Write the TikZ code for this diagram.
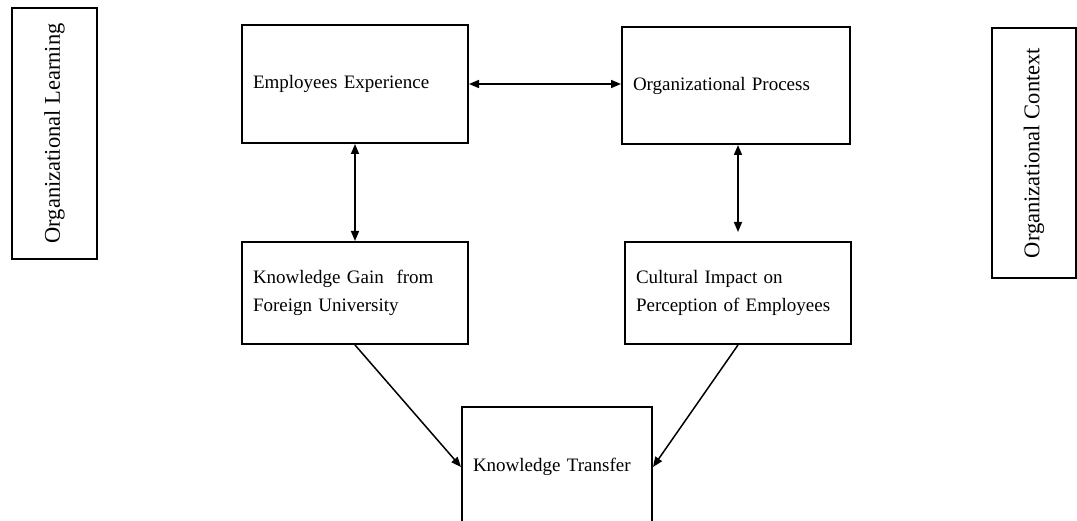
\documentclass[tikz,border=0pt]{standalone}
\usepackage{fontspec}
\setmainfont{Liberation Serif}
\usetikzlibrary{arrows.meta}
\begin{document}
\begin{tikzpicture}[x=1pt,y=-1pt,
  box/.style={draw, line width=2pt, rectangle, inner sep=0pt, inner xsep=11pt,
    align=left, font=\fontsize{19}{28}\selectfont},
  sidebox/.style={draw, line width=2pt, rectangle, inner sep=0pt, rotate=90,
    font=\fontsize{22.5}{26}\selectfont},
  link/.style={line width=1.5pt, -{Triangle[length=10pt,width=8pt]}},
  dlink/.style={line width=1.5pt, {Triangle[length=10pt,width=8pt]}-{Triangle[length=10pt,width=8pt]}}]
\useasboundingbox (0,0) rectangle (1077,521);

% side labels
\node[sidebox, minimum width=251pt, minimum height=85pt] (ol) at (54.5,133.5) {Organizational Learning};
\node[sidebox, minimum width=250pt, minimum height=84pt] (oc) at (1034,153) {Organizational Context};

% main boxes
\node[box, text width=204pt, minimum height=118pt] (ee) at (355,84) {Employees Experience};
\node[box, text width=206pt, minimum height=117pt] (op) at (736,85.5) {Organizational Process};
\node[box, text width=204pt, minimum height=102pt] (kg) at (355,293) {Knowledge Gain~ from\\Foreign University};
\node[box, text width=204pt, minimum height=102pt] (ci) at (738,293) {Cultural Impact on\\Perception of Employees};
\node[box, text width=168pt, minimum height=120pt] (kt) at (557,467) {Knowledge Transfer};

% connectors
\draw[dlink] (ee.east) -- (ee.east -| op.west);
\draw[dlink] (ee.south) -- (kg.north);
\draw[dlink] (ci.north |- op.south) -- ([yshift=9pt]ci.north);
\draw[link] (kg.south) -- (kt.west);
\draw[link] (ci.south) -- (kt.east);
\end{tikzpicture}
\end{document}
